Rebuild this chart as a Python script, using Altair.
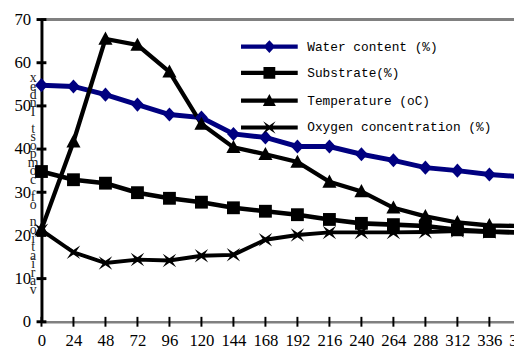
import altair as alt
import pandas as pd

hours = [0, 24, 48, 72, 96, 120, 144, 168, 192, 216, 240, 264, 288, 312, 336, 360]
water = [54.8, 54.5, 52.6, 50.3, 48.0, 47.3, 43.5, 42.7, 40.6, 40.6, 38.8, 37.4, 35.7, 35.0, 34.1, 33.6]
substrate = [34.8, 32.9, 32.1, 29.9, 28.6, 27.7, 26.4, 25.6, 24.8, 23.7, 22.8, 22.5, 22.2, 21.3, 20.9, 20.7]
temperature = [21.4, 41.7, 65.5, 64.1, 57.9, 45.8, 40.4, 38.8, 37.0, 32.4, 30.2, 26.4, 24.4, 23.0, 22.3, 22.2]
oxygen = [21.2, 16.1, 13.6, 14.4, 14.2, 15.3, 15.5, 19.0, 20.1, 20.7, 20.7, 20.7, 20.8, 21.0, 20.8, 20.6]

names = ["Water content (%)", "Substrate(%)", "Temperature (oC)", "Oxygen concentration (%)"]
colors = ["#000080", "#000000", "#000000", "#000000"]
y_ticks = [0, 10, 20, 30, 40, 50, 60, 70]
GAP = "\u200b"
axis_title = list("xednI") + [GAP] + list("tsopmoc") + [GAP] + list("fo") + [GAP] + list("noitairav")

rows = []
for name, vals in zip(names, [water, substrate, temperature, oxygen]):
    for t, v in zip(hours, vals):
        rows.append({"t": t, "value": v, "series": name})
df = pd.DataFrame(rows)
df_y = pd.DataFrame({"v": y_ticks})
df_x = pd.DataFrame({"t": hours})

W, H = 480, 307
XR = 487.5

markers = [
    "M0,-1.1L1,0L0,1.1L-1,0Z",
    "M-1,-1H1V1H-1Z",
    "M0,-1.15L1.1,0.9H-1.1Z",
    "M-1.05,-1.05L0,-0.35L1.05,-1.05L0.35,0L1.05,1.05L0,0.35L-1.05,1.05L-0.35,0Z",
]
bar = "M-4.8,-0.35H4.8V0.35H-4.8Z"
legend_paths = [bar + m for m in markers]

xscale = alt.Scale(domain=[0, 360], range=[0, XR])
yscale = alt.Scale(domain=[0, 70], nice=False)
cscale = alt.Scale(domain=names, range=colors)

x_axis = alt.Axis(
    values=hours, title=None, grid=False, ticks=False, labelOverlap=False, labelFlush=False,
    labelBound=False, labelFont="Liberation Serif", labelFontSize=17, labelColor="#000000",
    labelPadding=11, domainColor="#808080", domainWidth=2.5)
y_axis = alt.Axis(
    values=y_ticks, grid=False, ticks=False, labelFont="Liberation Serif", labelFontSize=17,
    labelColor="#000000", labelPadding=11, domainColor="#000000", domainWidth=3,
    labelOverlap=False, labelBound=False,
    title=axis_title, titleAngle=0, titleFont="Liberation Serif", titleFontSize=14,
    titleFontWeight="normal", titleColor="#222222", titleLineHeight=8.6, titleBaseline="top",
    titleAlign="center", titleX=-9, titleY=52)

X = alt.X("t:Q", scale=xscale, axis=x_axis)
Y = alt.Y("value:Q", scale=yscale, axis=y_axis)

legend_props = dict(
    title=None, orient="none", legendX=225, padding=0,
    symbolSize=144, symbolStrokeWidth=0, symbolOpacity=1, labelOffset=32, rowPadding=13.2,
    labelFont="Liberation Mono", labelFontSize=13, labelColor="#000000", labelLimit=400)

lines = alt.Chart(df).mark_line().encode(
    x=X, y=Y,
    color=alt.Color("series:N", scale=cscale, legend=None),
    strokeWidth=alt.StrokeWidth("series:N", scale=alt.Scale(domain=names, range=[5, 4, 4, 4]), legend=None),
    detail="series:N",
)

points = alt.Chart(df).mark_point(filled=True, size=170, opacity=1, strokeWidth=0).encode(
    x=X, y=Y,
    color=alt.Color("series:N", scale=cscale, legend=None),
    shape=alt.Shape("series:N", scale=alt.Scale(domain=names, range=markers), legend=None),
)

legend_a = alt.Chart(df).transform_filter("datum.t < 0").mark_point(
    filled=True, size=144, opacity=1, strokeWidth=0, color=colors[0]).encode(
    x=X, y=Y,
    shape=alt.Shape("series:N", scale=alt.Scale(domain=names[:1], range=legend_paths[:1]),
                    legend=alt.Legend(legendY=21, **legend_props)),
)
legend_b = alt.Chart(df).transform_filter("datum.t < 0").mark_point(
    filled=True, size=144, opacity=1, strokeWidth=0, color=colors[1]).encode(
    x=X, y=Y,
    shape=alt.Shape("series:N", scale=alt.Scale(domain=names[1:], range=legend_paths[1:]),
                    legend=alt.Legend(legendY=47.7, **legend_props)),
)

yticks = alt.Chart(df_y).mark_rule(color="#000000", strokeWidth=3).encode(
    y=alt.Y("v:Q", scale=yscale, axis=y_axis), x=alt.value(-5), x2=alt.value(5))
xticks = alt.Chart(df_x).mark_rule(color="#000000", strokeWidth=2).encode(
    x=alt.X("t:Q", scale=xscale, axis=x_axis), y=alt.value(H - 5), y2=alt.value(H + 5))
top = alt.Chart(df_y).mark_rule(color="#808080", strokeWidth=2).encode(
    y=alt.datum(70), x=alt.value(0), x2=alt.value(XR))

chart = alt.layer(top, lines, points, yticks, xticks, legend_a, legend_b).resolve_scale(
    shape="independent"
).properties(
    width=W, height=H,
    autosize=alt.AutoSizeParams(type="none"),
    padding={"left": 34, "top": 9, "right": 0, "bottom": 30},
).configure_view(stroke=None)

chart.save("out.html", embed_options={"renderer": "svg", "actions": False})
